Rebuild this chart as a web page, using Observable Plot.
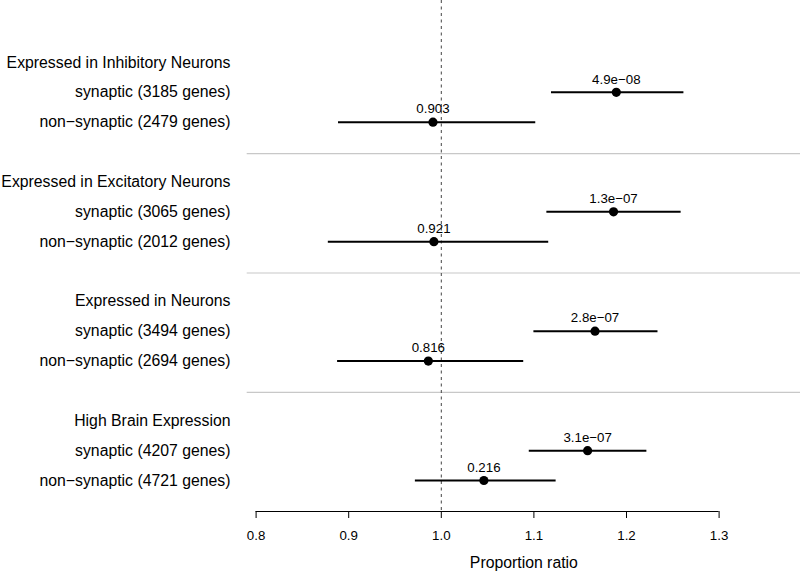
<!DOCTYPE html>
<html>
<head>
<meta charset="utf-8">
<script src="https://cdn.jsdelivr.net/npm/d3@7"></script>
<script src="https://cdn.jsdelivr.net/npm/@observablehq/plot@0.6"></script>
<style>
  html, body { margin: 0; padding: 0; background: #fff; }
  svg { display: block; }
</style>
</head>
<body>
<div id="chart"></div>
<script>
const groups = ["Expressed in Inhibitory Neurons", "Expressed in Excitatory Neurons", "Expressed in Neurons", "High Brain Expression"];
const synGenes = [3185, 3065, 3494, 4207];
const nonGenes = [2479, 2012, 2694, 4721];
const synEst = [1.189, 1.186, 1.166, 1.158];
const synLo  = [1.119, 1.114, 1.100, 1.095];
const synHi  = [1.262, 1.259, 1.234, 1.222];
const synP   = ["4.9e\u221208", "1.3e\u221207", "2.8e\u221207", "3.1e\u221207"];
const nonEst = [0.991, 0.992, 0.986, 1.046];
const nonLo  = [0.889, 0.878, 0.888, 0.972];
const nonHi  = [1.102, 1.116, 1.089, 1.124];
const nonP   = ["0.903", "0.921", "0.816", "0.216"];
const xTicks = [0.8, 0.9, 1.0, 1.1, 1.2, 1.3];

// Build rows (row index = vertical slot)
const headers = groups.map((g, i) => ({row: 4 * i, label: g}));
const rows = [];
groups.forEach((g, i) => {
  rows.push({row: 4 * i + 1, label: `synaptic (${synGenes[i]} genes)`, est: synEst[i], lo: synLo[i], hi: synHi[i], p: synP[i]});
  rows.push({row: 4 * i + 2, label: `non\u2212synaptic (${nonGenes[i]} genes)`, est: nonEst[i], lo: nonLo[i], hi: nonHi[i], p: nonP[i]});
});
const separators = groups.slice(0, -1).map((g, i) => 4 * i + 3.05);

const font = "'Liberation Sans', Helvetica, Arial, sans-serif";
const labelDx = -16.7; // labels right-aligned left of plot region

const chart = Plot.plot({
  width: 800,
  height: 577,
  marginLeft: 246.7,
  marginRight: 0,
  marginTop: 0,
  marginBottom: 66,
  style: {fontFamily: font, background: "#fff", color: "#000"},
  x: {domain: [0.79039, 1.3879]},
  y: {type: "linear", domain: [0, 14], range: [62, 480], axis: null},
  marks: [
    Plot.ruleY(separators, {stroke: "#c8c8c8", strokeWidth: 1.2}),
    Plot.ruleX([1.0], {stroke: "#444", strokeWidth: 1, strokeDasharray: "3,3.5"}),
    Plot.ruleY(rows, {y: "row", x1: "lo", x2: "hi", stroke: "#000", strokeWidth: 2}),
    Plot.dot(rows, {y: "row", x: "est", r: 4.6, fill: "#000", stroke: "none"}),
    Plot.text(rows, {y: "row", x: "est", text: "p", dy: -13, fontSize: 13.3, fill: "#000"}),
    Plot.text(headers, {y: "row", x: xTicks[0], text: "label", textAnchor: "end", dx: -25.6, fontSize: 15.8, fill: "#000"}),
    Plot.text(rows, {y: "row", x: xTicks[0], text: "label", textAnchor: "end", dx: -25.6, fontSize: 15.8, fill: "#000"}),
    Plot.ruleY([0], {y: () => 0, x1: xTicks[0], x2: xTicks[xTicks.length - 1], render: (index, scales, values, dims, ctx, next) => {
      const g = next(index, scales, values, dims, ctx);
      const yy = dims.height - dims.marginBottom;
      d3.select(g).selectAll("line").attr("y1", yy).attr("y2", yy);
      return g;
    }, stroke: "#000", strokeWidth: 1}),
    Plot.axisX({anchor: "bottom", ticks: xTicks, tickFormat: d3.format(".1f"), tickSize: 7, tickPadding: 12, fontSize: 13.3, label: null, stroke: "#000", strokeWidth: 1}),
    Plot.text(["Proportion ratio"], {frameAnchor: "bottom", dy: 56, fontSize: 15.8, fill: "#000"})
  ]
});
document.getElementById("chart").append(chart);
</script>
</body>
</html>
